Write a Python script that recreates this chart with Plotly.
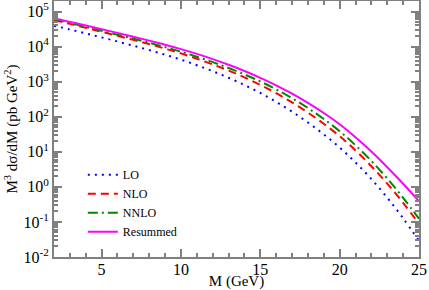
import plotly.graph_objects as go

M = list(range(2, 26))

lo = [39420, 30720, 23780, 18290, 13970, 10600, 7941, 5871, 4230, 2947, 1988, 1289,
      803.0, 475.1, 264.9, 139.2, 68.47, 31.35, 13.27, 4.954, 1.666, 0.4913, 0.1270, 0.0290]
nlo = [57310, 44380, 34340, 26410, 20310, 15510, 11780, 8765, 6396, 4515, 3106, 2067,
       1323, 808.4, 468.8, 256.3, 131.2, 62.86, 27.86, 10.96, 3.886, 1.240, 0.3513, 0.0885]
nnlo = [60010, 46770, 36430, 28200, 21830, 16790, 12830, 9672, 7151, 5150, 3613, 2453,
        1611, 1011, 601.7, 337.6, 177.5, 86.15, 38.68, 15.32, 5.468, 1.733, 0.4880, 0.1229]
resummed = [64070, 50600, 39940, 31330, 24570, 19140, 14820, 11320, 8482, 6188, 4399, 3025,
            2014, 1289, 787.6, 456.5, 249.7, 127.8, 60.84, 25.91, 10.13, 3.639, 1.224, 0.3879]

x_ticks = [5, 10, 15, 20, 25]
y_tickvals = [1e-2, 1e-1, 1, 10, 100, 1e3, 1e4, 1e5]
y_ticktext = ["10<sup>-2</sup>", "10<sup>-1</sup>", "10<sup>0</sup>", "10<sup>1</sup>",
              "10<sup>2</sup>", "10<sup>3</sup>", "10<sup>4</sup>", "10<sup>5</sup>"]

serif = "Liberation Serif, Times New Roman, serif"

fig = go.Figure()
fig.add_trace(go.Scatter(x=M, y=lo, name="LO", mode="lines", line_shape="spline",
                         line=dict(color="#0000ff", width=2, dash="2px,5px")))
fig.add_trace(go.Scatter(x=M, y=nlo, name="NLO", mode="lines", line_shape="spline",
                         line=dict(color="#ff0000", width=2, dash="8px,5px")))
fig.add_trace(go.Scatter(x=M, y=nnlo, name="NNLO", mode="lines", line_shape="spline",
                         line=dict(color="#008800", width=2, dash="10px,4px,2px,4px")))
fig.add_trace(go.Scatter(x=M, y=resummed, name="Resummed", mode="lines", line_shape="spline",
                         line=dict(color="#ff00ff", width=2)))

axis_common = dict(showline=True, linecolor="#808080", linewidth=2, mirror="ticks",
                   ticks="inside", tickcolor="#808080", tickwidth=1.5, showgrid=False,
                   zeroline=False, automargin=False,
                   tickfont=dict(family=serif, size=16, color="black"))

fig.update_xaxes(range=[2, 25], tickvals=x_ticks, ticklen=8, ticklabelstandoff=-3,
                 minor=dict(dtick=1, ticks="inside", ticklen=4, tickcolor="#808080", showgrid=False),
                 title=dict(text="M (GeV)", font=dict(family=serif, size=15, color="black"), standoff=2),
                 **axis_common)
fig.update_yaxes(type="log", range=[-2, 5.3], tickvals=y_tickvals, ticktext=y_ticktext, ticklen=8,
                 minor=dict(dtick="D1", ticks="inside", ticklen=4, tickcolor="#808080", showgrid=False),
                 title=dict(text="M<sup>3</sup> dσ/dM (pb GeV<sup>2</sup>)",
                            font=dict(family=serif, size=15, color="black"), standoff=2),
                 **axis_common)

fig.update_layout(
    width=429, height=290,
    margin=dict(l=54, r=10, t=1, b=33),
    plot_bgcolor="white", paper_bgcolor="white",
    font=dict(family=serif, color="black"),
    legend=dict(x=0.079, y=0.378, xanchor="left", yanchor="top", bgcolor="rgba(0,0,0,0)",
                font=dict(family=serif, size=12, color="black"), tracegroupgap=0,
                itemwidth=30),
    showlegend=True,
)

fig.write_html("out.html", config={"displayModeBar": False},
               post_script="document.body.style.margin='0';document.body.style.overflow='hidden';")
